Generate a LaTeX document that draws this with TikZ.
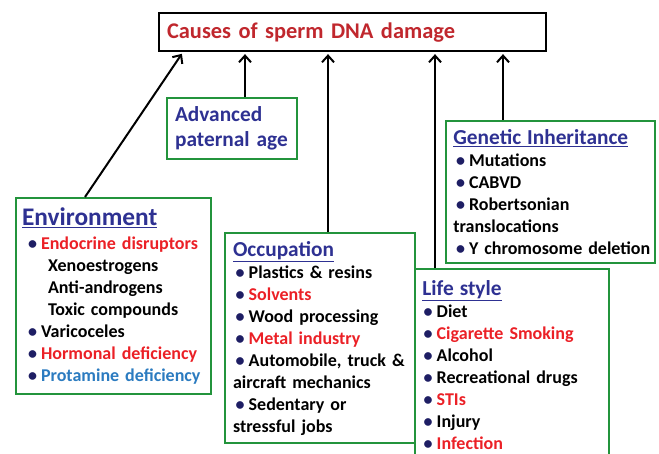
\documentclass[tikz,border=0pt]{standalone}
\usepackage{fontspec}
\setmainfont{Carlito}
\usetikzlibrary{arrows.meta,positioning}
\definecolor{titlered}{RGB}{192,39,45}
\definecolor{itemred}{RGB}{235,32,38}
\definecolor{headblue}{RGB}{46,49,146}
\definecolor{protblue}{RGB}{43,123,192}
\definecolor{boxgreen}{RGB}{35,148,60}
\definecolor{dotblue}{RGB}{30,30,100}
\newcommand{\itm}[3][2pt]{\mbox{\hspace*{#1}{\color{dotblue}\textbullet}\hspace{3pt}{\color{#2}#3}}}
\newcommand{\head}[2][16pt]{{\fontsize{#1}{#1}\selectfont\color{headblue}\underline{#2}}}
\begin{document}
\begin{tikzpicture}[x=0.75pt, y=-0.75pt,
    causebox/.style={draw=boxgreen, line width=1.6pt, anchor=north west, align=left,
        inner xsep=5.5pt, inner ysep=0pt, font=\fontsize{13.5}{16.5}\selectfont\bfseries},
    upline/.style={line width=1.5pt, -{Straight Barb[length=5pt,width=9pt]}, shorten >=1.5pt}]
    % Khung ảnh
    \path[use as bounding box, clip] (0,0) rectangle (659,453);

    % Ô tiêu đề
    \node[draw=black, line width=1.6pt, anchor=north west, align=left, inner xsep=6pt,
        text width=278pt, minimum height=28.5pt, text=titlered,
        font=\fontsize{16.8}{20}\selectfont\bfseries] (title) at (158,12) {Causes of sperm DNA damage};

    % Các ô nguyên nhân
    \node[causebox, inner xsep=6pt, text width=85.5pt, minimum height=45.75pt, text=headblue,
        font=\fontsize{16}{18.75}\selectfont\bfseries] (age) at (166,97) {Advanced\\paternal~age};

    \node[causebox, inner xsep=4.5pt, text width=137.25pt, minimum height=147pt] (env) at (15,197) {%
        \head[19pt]{Environment}\\[2pt]
        \itm[4.5pt]{itemred}{Endocrine disruptors}\\
        \hspace*{19.5pt}Xenoestrogens\\
        \hspace*{19.5pt}Anti-androgens\\
        \hspace*{19.5pt}Toxic compounds\\
        \itm[4.5pt]{black}{Varicoceles}\\
        \itm[4.5pt]{itemred}{Hormonal deficiency}\\
        \itm[4.5pt]{protblue}{Protamine deficiency}};

    \node[causebox, text width=134.5pt, minimum height=144pt] (life) at (414,268) {%
        \head{Life style}\\
        \itm[1pt]{black}{Diet}\\
        \itm[1pt]{itemred}{Cigarette Smoking}\\
        \itm[1pt]{black}{Alcohol}\\
        \itm[1pt]{black}{Recreational drugs}\\
        \itm[1pt]{itemred}{STIs}\\
        \itm[1pt]{black}{Injury}\\
        \itm[1pt]{itemred}{Infection}};

    \node[causebox, inner xsep=6pt, text width=130.5pt, minimum height=157.5pt] (occ) at (224,232) {%
        \head{Occupation}\\
        \itm{black}{Plastics \& resins}\\
        \itm{itemred}{Solvents}\\
        \itm{black}{Wood processing}\\
        \itm{itemred}{Metal industry}\\
        \itm{black}{Automobile, truck \&}\\
        aircraft mechanics\\
        \itm{black}{Sedentary or}\\
        stressful jobs};

    \node[causebox, text width=145.75pt, minimum height=106.5pt] (gen) at (445,120) {%
        \head{Genetic Inheritance}\\
        \itm{black}{Mutations}\\
        \itm{black}{CABVD}\\
        \itm{black}{Robertsonian}\\
        translocations\\
        \itm{black}{Y chromosome deletion}};

    % Chân các mũi tên
    \coordinate (envfoot) at ([xshift=52.5pt]env.north west);
    \coordinate (agefoot) at ([xshift=59.25pt]age.north west);
    \coordinate (occfoot) at ([xshift=78pt]occ.north west);
    \coordinate (lifefoot) at ([xshift=15.75pt]life.north west);
    \coordinate (genfoot) at ([xshift=43.5pt]gen.north west);

    % Mũi tên lên ô tiêu đề
    \draw[upline] (envfoot) -- ([xshift=18.75pt]title.south west);
    \foreach \f in {agefoot, occfoot, lifefoot, genfoot} {
        \draw[upline] (\f) -- (\f |- title.south);
    }

\end{tikzpicture}
\end{document}
